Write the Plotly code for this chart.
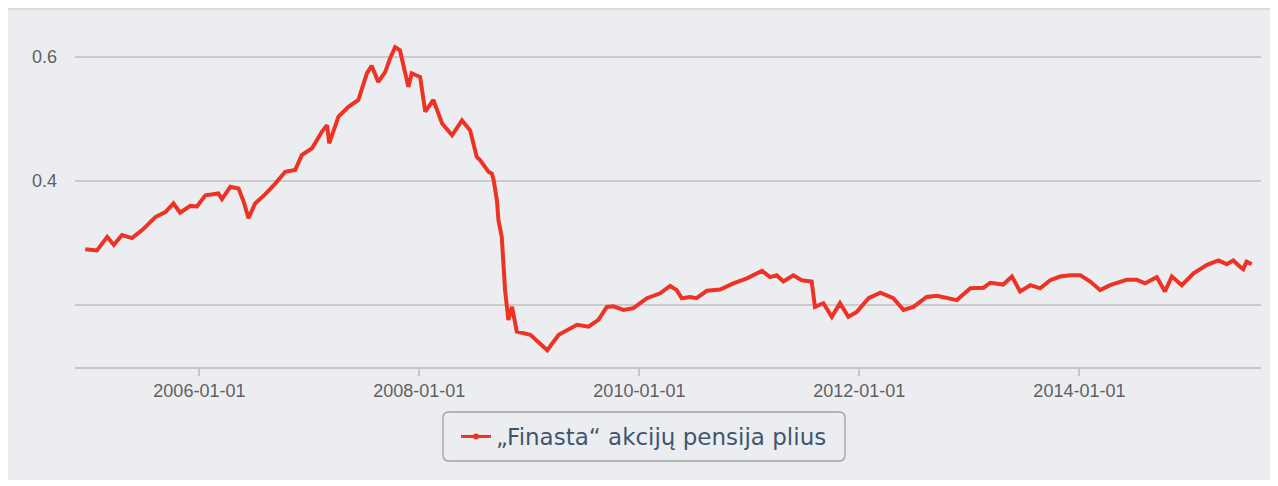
import plotly.graph_objects as go

# ---- data ----
dates = [
    "2004-12-18", "2005-01-26", "2005-03-01", "2005-03-23", "2005-04-19", "2005-05-22",
    "2005-06-25", "2005-08-08", "2005-09-10", "2005-10-07", "2005-10-29", "2005-12-02",
    "2005-12-24", "2006-01-21", "2006-03-05", "2006-03-17", "2006-04-14", "2006-05-11",
    "2006-05-28", "2006-06-13", "2006-07-05", "2006-08-08", "2006-09-10", "2006-10-13",
    "2006-11-15", "2006-12-07", "2007-01-10", "2007-02-12", "2007-03-01", "2007-03-08",
    "2007-04-08", "2007-05-11", "2007-06-13", "2007-07-11", "2007-07-27", "2007-08-18",
    "2007-09-10", "2007-09-26", "2007-10-13", "2007-10-29", "2007-11-26", "2007-12-07",
    "2008-01-04", "2008-01-21", "2008-02-17", "2008-03-17", "2008-04-19", "2008-05-22",
    "2008-06-18", "2008-07-10", "2008-07-21", "2008-08-18", "2008-08-29", "2008-09-04",
    "2008-09-15", "2008-09-20", "2008-10-01", "2008-10-12", "2008-10-23", "2008-11-04",
    "2008-11-20", "2009-01-04", "2009-03-01", "2009-04-08", "2009-06-08", "2009-07-16",
    "2009-08-18", "2009-09-15", "2009-10-07", "2009-11-09", "2009-12-12", "2010-01-26",
    "2010-03-11", "2010-04-13", "2010-05-05", "2010-05-22", "2010-06-18", "2010-07-10",
    "2010-08-13", "2010-09-26", "2010-11-09", "2010-12-24", "2011-02-12", "2011-03-11",
    "2011-04-02", "2011-04-24", "2011-05-27", "2011-06-24", "2011-07-27", "2011-08-07",
    "2011-09-04", "2011-10-02", "2011-10-29", "2011-11-26", "2011-12-24", "2012-02-01",
    "2012-03-11", "2012-04-23", "2012-05-27", "2012-06-29", "2012-08-12", "2012-09-15",
    "2012-11-20", "2013-01-04", "2013-02-17", "2013-03-11", "2013-04-23", "2013-05-22",
    "2013-06-18", "2013-07-22", "2013-08-24", "2013-09-26", "2013-10-29", "2013-12-01",
    "2014-01-04", "2014-02-06", "2014-03-11", "2014-04-13", "2014-06-08", "2014-07-10",
    "2014-08-07", "2014-09-15", "2014-10-12", "2014-11-04", "2014-12-07", "2015-01-15",
    "2015-03-01", "2015-04-08", "2015-05-05", "2015-05-27", "2015-06-18", "2015-06-29",
    "2015-07-10", "2015-07-27",
]
values = [
    0.290, 0.288, 0.310, 0.297, 0.313, 0.308,
    0.321, 0.342, 0.350, 0.364, 0.349, 0.360,
    0.359, 0.377, 0.380, 0.371, 0.391, 0.388,
    0.367, 0.340, 0.364, 0.379, 0.396, 0.415,
    0.418, 0.442, 0.453, 0.480, 0.490, 0.461,
    0.504, 0.520, 0.531, 0.574, 0.586, 0.560,
    0.576, 0.598, 0.616, 0.611, 0.552, 0.574,
    0.568, 0.512, 0.531, 0.493, 0.474, 0.498,
    0.482, 0.439, 0.434, 0.415, 0.412, 0.402,
    0.369, 0.337, 0.310, 0.224, 0.176, 0.197,
    0.157, 0.152, 0.127, 0.152, 0.168, 0.165,
    0.176, 0.197, 0.198, 0.192, 0.195, 0.211,
    0.219, 0.231, 0.224, 0.211, 0.213, 0.211,
    0.223, 0.225, 0.235, 0.243, 0.255, 0.245,
    0.248, 0.238, 0.248, 0.240, 0.238, 0.197,
    0.203, 0.181, 0.203, 0.181, 0.189, 0.211,
    0.220, 0.211, 0.192, 0.197, 0.213, 0.215,
    0.208, 0.227, 0.228, 0.236, 0.233, 0.246,
    0.222, 0.232, 0.227, 0.240, 0.246, 0.248,
    0.248, 0.238, 0.224, 0.232, 0.241, 0.241,
    0.235, 0.245, 0.222, 0.246, 0.232, 0.251,
    0.265, 0.272, 0.266, 0.272, 0.262, 0.258,
    0.270, 0.266,
]
series_name = "„Finasta“ akcijų pensija plius"

x_tick_vals = ["2006-01-01", "2008-01-01", "2010-01-01", "2012-01-01", "2014-01-01"]
x_tick_text = ["2006-01-01", "2008-01-01", "2010-01-01", "2012-01-01", "2014-01-01"]
y_tick_vals = [0.2, 0.4, 0.6]
y_tick_text = ["", "0.4", "0.6"]
x_range = ["2004-11-14", "2015-08-27"]
y_range = [0.1, 0.66]

# ---- styling ----
RED = "#EE3224"
BG = "#ECEDF0"
GRID = "#CBCBCD"

# the page body adds an 8 px offset; figure coords = page coords - 8
OFF = 8
W, H = 1270, 478
ML, MR, MT, MB = 75 - OFF, 17, 20 - OFF, 119
PW, PH = W - ML - MR, H - MT - MB


def px_x(p):
    """page pixel x -> paper coordinate"""
    return (p - OFF - ML) / PW


def px_y(p):
    """page pixel y -> paper coordinate"""
    return (H - MB - (p - OFF)) / PH


fig = go.Figure()
fig.add_trace(go.Scatter(
    x=dates, y=values, mode="lines", name=series_name,
    line=dict(color=RED, width=4), showlegend=False,
))
# legend-only entry (line with a small marker, as in the reference legend)
fig.add_trace(go.Scatter(
    x=[None], y=[None], mode="lines+markers", name=series_name,
    line=dict(color=RED, width=3), marker=dict(color=RED, size=6),
    showlegend=True,
))

bx0, bx1, by0, by1, r = 443, 845, 412, 461, 6
rx, ry = r / PW, r / PH
X0, X1, Y0, Y1 = px_x(bx0), px_x(bx1), px_y(by1), px_y(by0)
legend_path = (
    f"M {X0 + rx},{Y1} L {X1 - rx},{Y1} Q {X1},{Y1} {X1},{Y1 - ry} "
    f"L {X1},{Y0 + ry} Q {X1},{Y0} {X1 - rx},{Y0} "
    f"L {X0 + rx},{Y0} Q {X0},{Y0} {X0},{Y0 + ry} "
    f"L {X0},{Y1 - ry} Q {X0},{Y1} {X0 + rx},{Y1} Z"
)
shapes = [
    dict(type="rect", xref="paper", yref="paper", layer="below",
         x0=px_x(8), x1=px_x(1270), y0=px_y(480), y1=px_y(10.5),
         fillcolor=BG, line=dict(width=0)),
    dict(type="rect", xref="paper", yref="paper", layer="below",
         x0=px_x(8), x1=px_x(1270), y0=px_y(10.5), y1=px_y(8),
         fillcolor="#DADBDE", line=dict(width=0)),
    dict(type="path", xref="paper", yref="paper", layer="below",
         path=legend_path, fillcolor="rgba(0,0,0,0)",
         line=dict(color="#A0A0A0", width=1.3)),
]

fig.update_layout(
    width=W, height=H,
    margin=dict(l=ML, r=MR, t=MT, b=MB),
    paper_bgcolor="white",
    plot_bgcolor="rgba(0,0,0,0)",
    shapes=shapes,
    font=dict(family="Liberation Sans, Arial, sans-serif", color="#606060"),
    showlegend=True,
    legend=dict(
        orientation="h",
        x=px_x((bx0 + bx1) / 2), xanchor="center",
        y=px_y((by0 + by1) / 2), yanchor="middle",
        bgcolor="rgba(0,0,0,0)", borderwidth=0,
        font=dict(family="DejaVu Sans, Verdana, sans-serif", size=23, color="#3E576F"),
    ),
    xaxis=dict(
        type="date", range=x_range,
        tickvals=x_tick_vals, ticktext=x_tick_text,
        showgrid=False, zeroline=False,
        showline=True, linecolor="#C6C6C8", linewidth=1.5,
        ticks="outside", ticklen=7, tickcolor="#C6C6C8", tickwidth=1.5,
        tickfont=dict(size=18, color="#606060"),
    ),
    yaxis=dict(
        range=y_range,
        tickvals=y_tick_vals, ticktext=y_tick_text,
        showgrid=True, gridcolor=GRID, gridwidth=1.5,
        zeroline=False, showline=False,
        ticks="", ticklabelstandoff=17,
        tickfont=dict(size=18, color="#606060"),
    ),
)

fig.write_html("out.html")
